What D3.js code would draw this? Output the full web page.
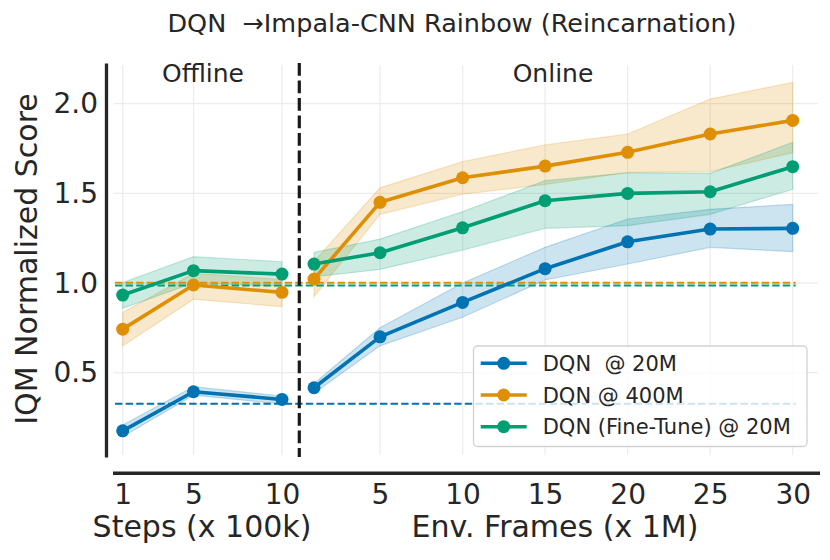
<!DOCTYPE html>
<html>
<head>
<meta charset="utf-8">
<script src="https://cdn.jsdelivr.net/npm/d3@7"></script>
<style>
  html, body { margin: 0; padding: 0; background: #fff; }
  svg { display: block; font-family: "DejaVu Sans", sans-serif; }
</style>
</head>
<body>
<svg id="chart" width="830" height="560"></svg>
<script>
// ---------------- DATA ----------------
const offlineSteps = [1, 5, 10];
const onlineFrames = [1, 5, 10, 15, 20, 25, 30];
const offlineTicks = [1, 5, 10];
const onlineTicks = [5, 10, 15, 20, 25, 30];
const yTicks = [0.5, 1.0, 1.5, 2.0];

const seriesNames = ["DQN  @ 20M", "DQN @ 400M", "DQN (Fine-Tune) @ 20M"];
const seriesColors = ["#0173b2", "#de8f05", "#029e73"];

// DQN @ 20M
const dqn20OfflineMean = [0.176, 0.394, 0.351];
const dqn20OfflineLo   = [0.143, 0.375, 0.325];
const dqn20OfflineHi   = [0.208, 0.422, 0.370];
const dqn20OnlineMean  = [0.416, 0.700, 0.892, 1.080, 1.230, 1.301, 1.305];
const dqn20OnlineLo    = [0.385, 0.650, 0.809, 1.017, 1.106, 1.199, 1.175];
const dqn20OnlineHi    = [0.440, 0.751, 1.000, 1.199, 1.357, 1.411, 1.439];

// DQN @ 400M
const dqn400OfflineMean = [0.743, 0.989, 0.948];
const dqn400OfflineLo   = [0.650, 0.910, 0.868];
const dqn400OfflineHi   = [0.836, 1.054, 1.020];
const dqn400OnlineMean  = [1.022, 1.450, 1.587, 1.652, 1.729, 1.831, 1.907];
const dqn400OnlineLo    = [0.924, 1.383, 1.495, 1.550, 1.617, 1.621, 1.727];
const dqn400OnlineHi    = [1.120, 1.531, 1.677, 1.770, 1.831, 2.026, 2.119];

// DQN (Fine-Tune) @ 20M
const ftOfflineMean = [0.933, 1.069, 1.050];
const ftOfflineLo   = [0.859, 1.000, 0.983];
const ftOfflineHi   = [1.002, 1.147, 1.119];
const ftOnlineMean  = [1.106, 1.169, 1.308, 1.459, 1.500, 1.509, 1.649];
const ftOnlineLo    = [1.035, 1.076, 1.184, 1.305, 1.320, 1.383, 1.523];
const ftOnlineHi    = [1.171, 1.245, 1.398, 1.571, 1.615, 1.612, 1.785];

// teacher reference levels (dashed horizontal lines)
const baselines = [0.327, 1.002, 0.987];

// ---------------- LAYOUT ----------------
const svg = d3.select("#chart");
const textColor = "#262626";
const plotLeft = 114, plotRight = 818, plotTop = 63, plotBottom = 457;

const y = d3.scaleLinear().domain([0.03, 2.227]).range([plotBottom, plotTop]);
const xOff = d3.scaleLinear().domain([1, 10]).range([122.7, 282]);
const xOn = d3.scaleLinear().domain([1, 30]).range([314, 792.7]);

const series = [
  { off: [dqn20OfflineMean, dqn20OfflineLo, dqn20OfflineHi], on: [dqn20OnlineMean, dqn20OnlineLo, dqn20OnlineHi] },
  { off: [dqn400OfflineMean, dqn400OfflineLo, dqn400OfflineHi], on: [dqn400OnlineMean, dqn400OnlineLo, dqn400OnlineHi] },
  { off: [ftOfflineMean, ftOfflineLo, ftOfflineHi], on: [ftOnlineMean, ftOnlineLo, ftOnlineHi] }
];

// ---------------- GRID ----------------
const grid = svg.append("g").attr("stroke", "#ececec").attr("stroke-width", 1.2);
yTicks.forEach(t => grid.append("line")
  .attr("x1", plotLeft).attr("x2", plotRight).attr("y1", y(t)).attr("y2", y(t)));
offlineTicks.forEach(t => grid.append("line")
  .attr("x1", xOff(t)).attr("x2", xOff(t)).attr("y1", plotTop + 2).attr("y2", plotBottom - 2));
onlineTicks.forEach(t => grid.append("line")
  .attr("x1", xOn(t)).attr("x2", xOn(t)).attr("y1", plotTop + 2).attr("y2", plotBottom - 2));

// ---------------- BANDS ----------------
function drawSegment(g, xs, xScale, arrs, color) {
  const [mean, lo, hi] = arrs;
  const pts = xs.map((x, i) => ({ x, m: mean[i], lo: lo[i], hi: hi[i] }));
  const area = d3.area().x(d => xScale(d.x)).y0(d => y(d.lo)).y1(d => y(d.hi));
  g.append("path").datum(pts).attr("d", area)
    .attr("fill", color).attr("fill-opacity", 0.2)
    .attr("stroke", color).attr("stroke-opacity", 0.22).attr("stroke-width", 1.2);
}
function drawLine(g, xs, xScale, mean, color) {
  const pts = xs.map((x, i) => ({ x, m: mean[i] }));
  const line = d3.line().x(d => xScale(d.x)).y(d => y(d.m));
  g.append("path").datum(pts).attr("d", line)
    .attr("fill", "none").attr("stroke", color).attr("stroke-width", 3.6)
    .attr("stroke-linejoin", "round");
  g.selectAll(null).data(pts).enter().append("circle")
    .attr("cx", d => xScale(d.x)).attr("cy", d => y(d.m)).attr("r", 6.5)
    .attr("fill", color);
}

const bandsG = svg.append("g");
series.forEach((s, i) => {
  drawSegment(bandsG, offlineSteps, xOff, s.off, seriesColors[i]);
  drawSegment(bandsG, onlineFrames, xOn, s.on, seriesColors[i]);
});

// ---------------- BASELINES ----------------
const baseG = svg.append("g");
baselines.forEach((b, i) => {
  baseG.append("line")
    .attr("x1", 115).attr("x2", xOn(30) + 3)
    .attr("y1", y(b)).attr("y2", y(b))
    .attr("stroke", seriesColors[i]).attr("stroke-width", 2)
    .attr("stroke-dasharray", "7.4,3.2");
});

// ---------------- LINES ----------------
const linesG = svg.append("g");
series.forEach((s, i) => {
  drawLine(linesG, offlineSteps, xOff, s.off[0], seriesColors[i]);
  drawLine(linesG, onlineFrames, xOn, s.on[0], seriesColors[i]);
});

// ---------------- DIVIDER ----------------
svg.append("line")
  .attr("x1", 299.3).attr("x2", 299.3).attr("y1", plotTop).attr("y2", plotBottom)
  .attr("stroke", "#1a1a1a").attr("stroke-width", 3.2)
  .attr("stroke-dasharray", "12.7,4.8");

// ---------------- AXES ----------------
const yAxis = d3.axisLeft(y).tickValues(yTicks).tickFormat(d3.format(".1f"))
  .tickSize(0).tickPadding(8);
const yG = svg.append("g").attr("transform", "translate(106,0)").call(yAxis);
yG.select(".domain").attr("stroke", textColor).attr("stroke-width", 3.3);
yG.selectAll("text").attr("font-size", 28).attr("fill", textColor)
  .attr("font-family", "DejaVu Sans");

svg.append("line")
  .attr("x1", 113).attr("x2", 820).attr("y1", 473.3).attr("y2", 473.3)
  .attr("stroke", textColor).attr("stroke-width", 3.5);

function bottomTicks(scale, ticks) {
  const ax = d3.axisBottom(scale).tickValues(ticks).tickFormat(d3.format("d"))
    .tickSize(0).tickPadding(11);
  const g = svg.append("g").attr("transform", "translate(0,473.3)").call(ax);
  g.select(".domain").remove();
  g.selectAll("text").attr("font-size", 28).attr("fill", textColor)
    .attr("font-family", "DejaVu Sans");
}
bottomTicks(xOff, offlineTicks);
bottomTicks(xOn, onlineTicks);

// axis titles
svg.append("text").attr("x", 202).attr("y", 537)
  .attr("text-anchor", "middle").attr("font-size", 30).attr("fill", textColor)
  .text("Steps (x 100k)");
svg.append("text").attr("x", 555).attr("y", 537)
  .attr("text-anchor", "middle").attr("font-size", 30).attr("fill", textColor)
  .text("Env. Frames (x 1M)");
svg.append("text")
  .attr("transform", "translate(36.5,259) rotate(-90)")
  .attr("text-anchor", "middle").attr("font-size", 30).attr("fill", textColor)
  .text("IQM Normalized Score");

// phase labels
svg.append("text").attr("x", 203).attr("y", 81.5)
  .attr("text-anchor", "middle").attr("font-size", 25).attr("fill", textColor)
  .text("Offline");
svg.append("text").attr("x", 553).attr("y", 81.5)
  .attr("text-anchor", "middle").attr("font-size", 25).attr("fill", textColor)
  .text("Online");

// title
svg.append("text").attr("x", 452).attr("y", 32)
  .attr("text-anchor", "middle").attr("font-size", 25.5).attr("fill", textColor)
  .attr("xml:space", "preserve").style("white-space", "pre")
  .text("DQN  \u2192Impala-CNN Rainbow (Reincarnation)");

// ---------------- LEGEND ----------------
const leg = svg.append("g");
leg.append("rect").attr("x", 473.5).attr("y", 346).attr("width", 333.5).attr("height", 100.5)
  .attr("rx", 4).attr("fill", "#fff").attr("fill-opacity", 0.8)
  .attr("stroke", "#d2d2d2").attr("stroke-width", 1.3);
const rowY = [363.3, 395, 426.7];
seriesNames.forEach((name, i) => {
  leg.append("line").attr("x1", 480.7).attr("x2", 526.7)
    .attr("y1", rowY[i]).attr("y2", rowY[i])
    .attr("stroke", seriesColors[i]).attr("stroke-width", 3.6);
  leg.append("circle").attr("cx", 503.7).attr("cy", rowY[i]).attr("r", 6.5)
    .attr("fill", seriesColors[i]);
  leg.append("text").attr("x", 542.7).attr("y", rowY[i] + 7.5)
    .attr("font-size", 21).attr("fill", textColor)
    .attr("xml:space", "preserve").style("white-space", "pre")
    .text(name);
});
</script>
</body>
</html>
